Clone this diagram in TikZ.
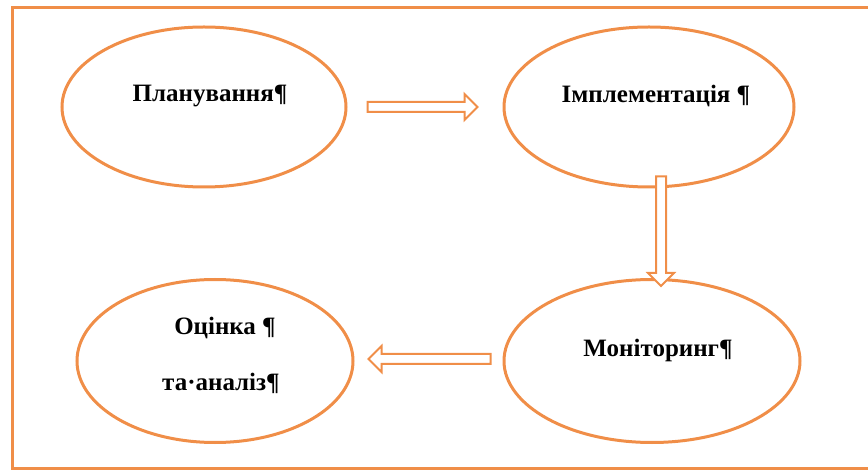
\documentclass[tikz,border=0pt]{standalone}
\usepackage{fontspec}
\setmainfont{Liberation Serif}
\usetikzlibrary{shapes.geometric,calc}
\definecolor{acc}{RGB}{240,142,72}
\tikzset{
  stage/.style={ellipse, draw=acc, line width=3pt, inner sep=0pt},
  lbl/.style={font=\bfseries\fontsize{25}{28}\selectfont, text=black, align=center},
  flow/.style={draw=acc, fill=white, line width=2pt, line join=miter,
    to path={let \p1=(\tikztostart), \p2=(\tikztotarget),
      \n1={atan2(\y2-\y1,\x2-\x1)}, \n2={veclen(\x2-\x1,\y2-\y1)},
      \n3={\n2-13pt} in
      ($(\p1)+(\n1+90:5pt)$) -- ($(\p1)+(\n1:\n3)+(\n1+90:5pt)$)
      -- ($(\p1)+(\n1:\n3)+(\n1+90:13pt)$) -- (\p2)
      -- ($(\p1)+(\n1:\n3)+(\n1-90:13pt)$) -- ($(\p1)+(\n1:\n3)+(\n1-90:5pt)$)
      -- ($(\p1)+(\n1-90:5pt)$) -- cycle}},
}
\begin{document}
\begin{tikzpicture}[x=1pt,y=-1pt]
\useasboundingbox (0,0) rectangle (868,470);
\draw[acc, line width=3pt] (868,8) -- (12,8) -- (12,468) -- (868,468);
\node[stage, minimum width=284pt, minimum height=160pt] (plan) at (204,107) {};
\node[stage, minimum width=290pt, minimum height=160pt] (impl) at (649,107) {};
\node[stage, minimum width=296pt, minimum height=163pt] (mon) at (652,361) {};
\node[stage, minimum width=276pt, minimum height=163pt] (eval) at (215,361) {};
\node[lbl] (tplan) at (210,96) {Планування¶};
\node[lbl] (timpl) at (656,96) {Імплементація ¶};
\node[lbl] (tmon) at (658,350) {Моніторинг¶};
\node[lbl] (teval1) at (225,328) {Оцінка ¶};
\node[lbl] (teval2) at (221,383) {та·аналіз¶};
\path[flow] ([xshift=20pt]plan.east) to ([xshift=-25pt]impl.west);
\path[flow] ([xshift=12pt,yshift=12pt]impl.south) to ([xshift=9pt,yshift=-8pt]mon.north);
\path[flow] ([xshift=-12pt,yshift=2pt]mon.west) to ([xshift=14pt,yshift=2pt]eval.east);
\end{tikzpicture}
\end{document}
